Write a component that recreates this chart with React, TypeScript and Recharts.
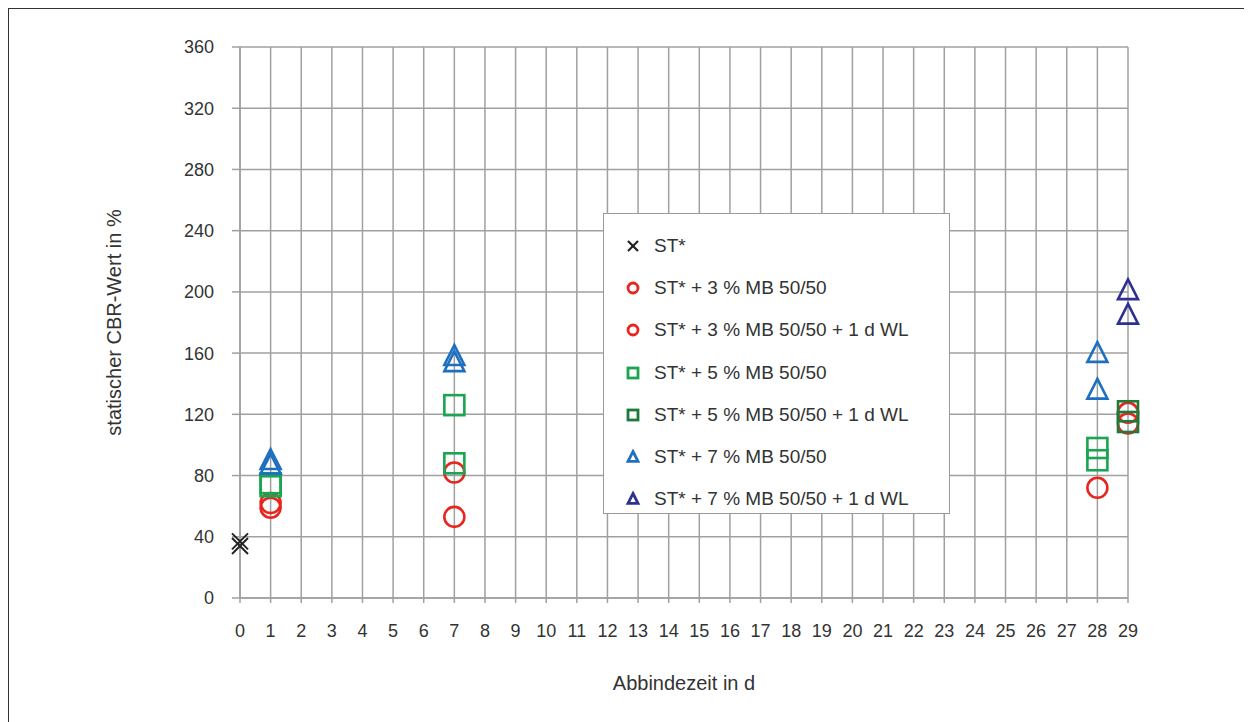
import React from "react";
import { ScatterChart, Scatter, XAxis, YAxis, CartesianGrid } from "recharts";

const xTicks = Array.from({ length: 30 }, (_, i) => i);
const yTicks = [0, 40, 80, 120, 160, 200, 240, 280, 320, 360];

const seriesNames = [
  "ST*",
  "ST* + 3 % MB 50/50",
  "ST* + 3 % MB 50/50 + 1 d WL",
  "ST* + 5 % MB 50/50",
  "ST* + 5 % MB 50/50 + 1 d WL",
  "ST* + 7 % MB 50/50",
  "ST* + 7 % MB 50/50 + 1 d WL",
];
const seriesColors = ["#222222", "#e8251e", "#e8251e", "#1aa550", "#1c7a3a", "#1f6fc0", "#2e3192"];
const seriesShapes = ["cross", "circle", "circle", "square", "square", "triangle", "triangle"];

const st = [
  { x: 0, y: 37 },
  { x: 0, y: 34 },
];
const st3 = [
  { x: 1, y: 62 },
  { x: 1, y: 59 },
  { x: 7, y: 82 },
  { x: 7, y: 53 },
  { x: 28, y: 72 },
];
const st3wl = [
  { x: 29, y: 121 },
  { x: 29, y: 114 },
];
const st5 = [
  { x: 1, y: 75 },
  { x: 1, y: 73 },
  { x: 7, y: 126 },
  { x: 7, y: 88 },
  { x: 28, y: 98 },
  { x: 28, y: 90 },
];
const st5wl = [
  { x: 29, y: 122 },
  { x: 29, y: 115 },
];
const st7 = [
  { x: 1, y: 90 },
  { x: 1, y: 87 },
  { x: 7, y: 158 },
  { x: 7, y: 154 },
  { x: 28, y: 160 },
  { x: 28, y: 136 },
];
const st7wl = [
  { x: 29, y: 201 },
  { x: 29, y: 185 },
];
const seriesData = [st, st3, st3wl, st5, st5wl, st7, st7wl];

const FONT = "'Liberation Sans', Arial, sans-serif";

function Marker({ kind, color, cx, cy, s }: { kind: string; color: string; cx: number; cy: number; s: number }) {
  const sw = s > 6 ? 2.6 : 2.8;
  if (kind === "cross") {
    return (
      <g stroke={color} strokeWidth={s > 6 ? 2 : 2.2} fill="none">
        <line x1={cx - s} y1={cy - s} x2={cx + s} y2={cy + s} />
        <line x1={cx - s} y1={cy + s} x2={cx + s} y2={cy - s} />
      </g>
    );
  }
  if (kind === "circle") {
    return <circle cx={cx} cy={cy} r={s} stroke={color} strokeWidth={sw} fill="none" />;
  }
  if (kind === "square") {
    return <rect x={cx - s} y={cy - s} width={2 * s} height={2 * s} stroke={color} strokeWidth={sw} fill="none" />;
  }
  const h = s * 1.1;
  return (
    <polygon
      points={`${cx},${cy - h} ${cx + s},${cy + h * 0.8} ${cx - s},${cy + h * 0.8}`}
      stroke={color}
      strokeWidth={sw}
      strokeLinejoin="miter"
      fill="none"
    />
  );
}

function makeShape(i: number) {
  return (props: any) => {
    const { cx, cy } = props;
    if (cx == null || cy == null) return <g />;
    const s = seriesShapes[i] === "cross" ? 8 : 10;
    return <Marker kind={seriesShapes[i]} color={seriesColors[i]} cx={cx} cy={cy} s={s} />;
  };
}

function LegendBox() {
  return (
    <div
      style={{
        position: "absolute",
        left: 595,
        top: 205,
        width: 347,
        height: 301,
        background: "#fff",
        border: "1.5px solid #9a9a9a",
        boxSizing: "border-box",
        paddingTop: 11,
        fontFamily: FONT,
        fontSize: 19,
        color: "#333",
      }}
    >
      {seriesNames.map((n, i) => (
        <div key={n} style={{ display: "flex", alignItems: "center", height: 42.2 }}>
          <svg width={50} height={20} style={{ flex: "none" }}>
            <Marker kind={seriesShapes[i]} color={seriesColors[i]} cx={29} cy={10} s={5} />
          </svg>
          <span>{n}</span>
        </div>
      ))}
    </div>
  );
}

export default function App() {
  return (
    <div style={{ position: "relative", width: 1244, height: 714, background: "#fff" }}>
      <ScatterChart width={1244} height={714} margin={{ top: 39, right: 124, bottom: 86, left: 172 }}>
        <CartesianGrid stroke="#a0a0a0" strokeWidth={1.5} />
        <XAxis
          type="number"
          dataKey="x"
          domain={[0, 29]}
          ticks={xTicks}
          interval={0}
          allowDecimals={false}
          stroke="#a0a0a0"
          strokeWidth={1.5}
          tickSize={5}
          tick={{ fill: "#333", fontSize: 18, fontFamily: FONT, dy: 19 }}
          height={38}
          label={{
            value: "Abbindezeit in d",
            position: "insideBottom",
            offset: -54,
            fill: "#333",
            fontSize: 20,
            fontFamily: FONT,
          }}
        />
        <YAxis
          type="number"
          dataKey="y"
          domain={[0, 360]}
          ticks={yTicks}
          interval={0}
          stroke="#a0a0a0"
          strokeWidth={1.5}
          tickSize={8}
          tick={{ fill: "#333", fontSize: 18, fontFamily: FONT, dx: -16 }}
          width={60}
          label={{
            value: "statischer CBR-Wert in %",
            angle: -90,
            position: "insideLeft",
            dx: -71,
            fill: "#333",
            fontSize: 20,
            fontFamily: FONT,
            style: { textAnchor: "middle" },
          }}
        />
        {seriesData.map((d, i) => (
          <Scatter
            key={seriesNames[i]}
            name={seriesNames[i]}
            data={d}
            shape={makeShape(i)}
            isAnimationActive={false}
          />
        ))}
      </ScatterChart>
      <LegendBox />
      <div style={{ position: "absolute", left: -1, top: -1, width: 1250, height: 2, background: "#333", zIndex: 10 }} />
      <div style={{ position: "absolute", left: -1, top: -1, width: 2, height: 720, background: "#333", zIndex: 10 }} />
    </div>
  );
}
